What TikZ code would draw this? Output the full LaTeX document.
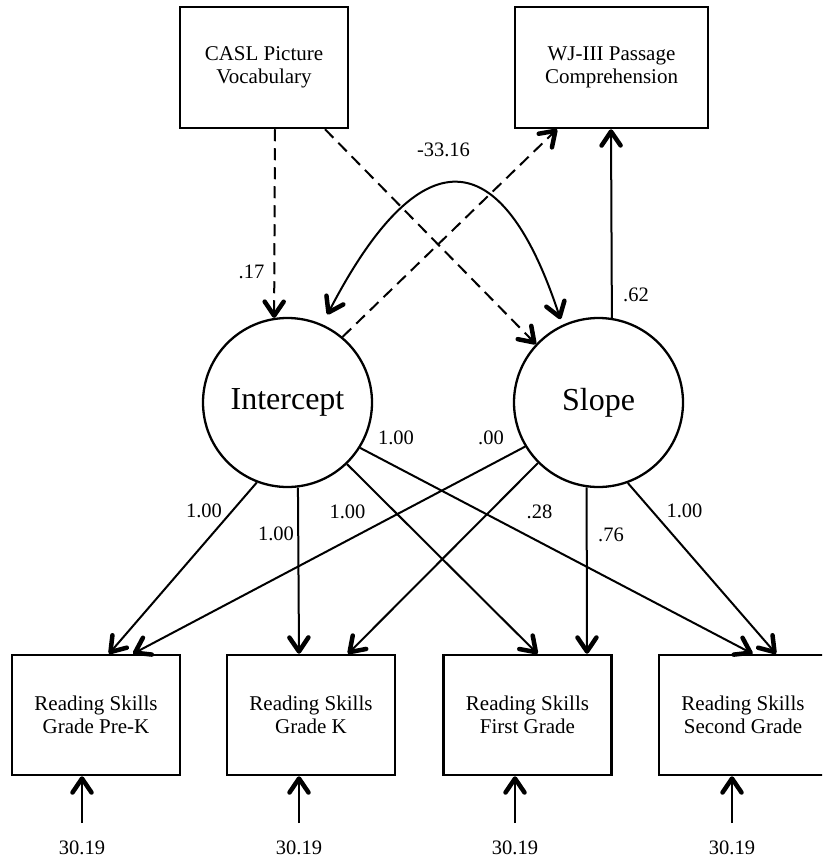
\documentclass[tikz,border=0pt]{standalone}
\usepackage{fontspec}
\setmainfont{Liberation Serif}
\usetikzlibrary{arrows.meta}

\begin{document}
\begin{tikzpicture}[x=1pt,y=-1pt,
  >={Straight Barb[length=14pt,width=19pt,line width=4.5pt 0,round]},
  conn/.style={line width=2pt,->},
  dashconn/.style={conn,dash pattern=on 12pt off 7pt},
  obs/.style={draw,line width=2.5pt,rectangle,minimum width=168pt,
    minimum height=121pt,inner sep=0pt,align=center,
    font=\fontsize{21}{23.5}\selectfont},
  lat/.style={draw,line width=2.3pt,circle,minimum size=169pt,inner sep=0pt,
    font=\fontsize{32}{36}\selectfont},
  coef/.style={inner sep=0pt,font=\fontsize{20.5}{24}\selectfont}]

\useasboundingbox (0,0) rectangle (822,861);
\clip (0,0) rectangle (822,861);

% observed predictors and outcome
\node[obs] (casl) at (264,67.5) {CASL Picture\\Vocabulary};
\node[obs,minimum width=193pt] (wj) at (611.5,67.5) {WJ-III Passage\\Comprehension};

% latent growth factors
\node[lat] (int) at (287.5,402.5) {Intercept};
\node[lat] (slp) at (598.5,402.5) {Slope};

% repeated reading measures
\node[obs,minimum height=120pt] (g0) at (96,715)  {Reading Skills\\Grade Pre-K};
\node[obs,minimum height=120pt] (g1) at (311,715) {Reading Skills\\Grade K};
\node[obs,minimum height=120pt] (g2) at (527.5,715) {Reading Skills\\First Grade};
\node[obs,minimum height=120pt] (g3) at (743,715) {Reading Skills\\Second Grade};

% predictor paths
\draw[dashconn] ([xshift=11pt]casl.south) -- (int.99);
\draw[dashconn] ([xshift=61pt]casl.south) -- (slp.137);
\draw[dashconn] (int.50) -- ([xshift=-54.5pt]wj.south);
\draw[conn] (slp.81.5) -- ([xshift=-0.5pt]wj.south);

% factor covariance
\draw[line width=2pt,<->,shorten <=11pt,shorten >=6pt]
  (int.66) .. controls (419,138) and (501,138) .. (slp.115);

% loadings
\draw[conn] (int.249.8) -- ([xshift=13pt]g0.north);
\draw[conn] (int.277.8) -- ([xshift=-12pt]g1.north);
\draw[conn] (int.314.2) -- ([xshift=10pt]g2.north);
\draw[conn] (int.328.6) -- ([xshift=9.5pt]g3.north);
\draw[conn] (slp.211)   -- ([xshift=37pt]g0.north);
\draw[conn] (slp.225.8) -- ([xshift=37pt]g1.north);
\draw[conn] (slp.262.2) -- ([xshift=59.5pt]g2.north);
\draw[conn] (slp.290.6) -- ([xshift=33pt]g3.north);

% residual variances
\foreach \k/\x in {0/82,1/299,2/515,3/732}{
  \coordinate (e\k) at (\x,823);
  \draw[conn] (e\k) -- (e\k |- g\k.south);
  \node[coef] (v\k) at (\x,848) {30.19};
}

% coefficients
\node[coef] (c17)  at (251.5,272) {.17};
\node[coef] (cov)  at (443.5,150) {-33.16};
\node[coef] (c62)  at (636,295)   {.62};
\node[coef] (i0)   at (204,511)   {1.00};
\node[coef] (i1)   at (276,534)   {1.00};
\node[coef] (i2)   at (347.5,512) {1.00};
\node[coef] (i3)   at (396,438)   {1.00};
\node[coef] (s0)   at (491,438)   {.00};
\node[coef] (s1)   at (539.5,512) {.28};
\node[coef] (s2)   at (611,535)   {.76};
\node[coef] (s3)   at (684.5,511) {1.00};
\end{tikzpicture}
\end{document}
